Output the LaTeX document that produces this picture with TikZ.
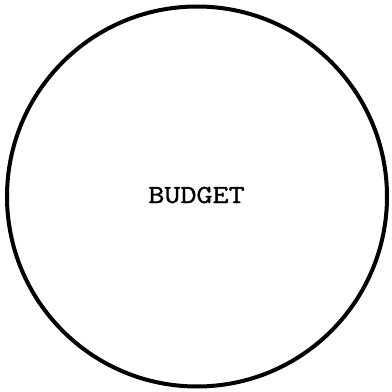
\documentclass[tikz,border=0pt]{standalone}
\usepackage{fontspec}
\setmonofont[FakeBold=1.2]{Latin Modern Mono}
\begin{document}
\begin{tikzpicture}[x=1pt,y=1pt,
  ring/.style={draw=black,line width=4pt},
  bigtext/.style={font=\ttfamily\bfseries\fontsize{26}{30}\selectfont,inner sep=0pt}]
\useasboundingbox (0,0) rectangle (392,392);
\node[ring,circle,minimum size=380pt,inner sep=0pt] (budget) at (197,195.5) {};
\node[bigtext,anchor=base] (txt) at (196.5,189) {\scalebox{1.2}[1]{BUDGET}};
\end{tikzpicture}
\end{document}
